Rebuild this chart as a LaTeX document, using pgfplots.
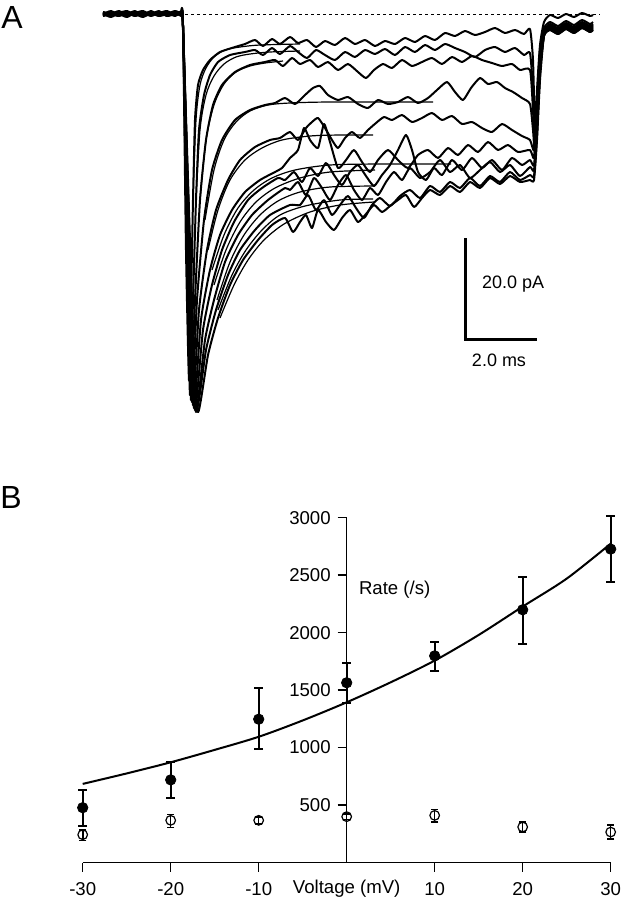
\documentclass[border=0pt]{standalone}
\usepackage{fontspec}
\setmainfont{Liberation Sans}
\usepackage{pgfplots}
\pgfplotsset{compat=1.18}

% panel A is drawn in image units (1 unit = 0.5pt), y grows downwards
\pgfplotsset{
  trace/.style={black, line width=1pt, line join=round, no marks, smooth, tension=0.35},
  fit/.style={black, line width=0.6pt, no marks, smooth},
}

\begin{document}
\begin{tikzpicture}
\useasboundingbox (0pt,0pt) rectangle (310.5pt,-450pt);

\begin{axis}[
  at={(0pt,0pt)}, anchor=north west,
  scale only axis, width=310.5pt, height=225pt,
  xmin=0, xmax=621, ymin=0, ymax=450, y dir=reverse,
  hide axis, clip=false,
]
% baseline reference
\addplot[black, line width=0.5pt, dash pattern=on 1.5pt off 1.5pt] coordinates {(185,14.5) (600,14.5)};

% current traces
\addplot[trace] coordinates {(103,13)(110,15)(118,12)(126,15)(134,13)(142,16)(150,12)(158,14)(166,12)(174,15)(181,13)(183,25)(186,250)(189,380)(191,300)(193,200)(195,120)(198,85)(203,70)(210,60)(220,52)(235,47)(245,44)(255,40)(263,46)(272,39)(280,44)(290,37)(298,43)(307,40)(316,47)(325,41)(335,45)(345,38)(355,44)(365,40)(375,46)(385,41)(395,44)(405,38)(415,42)(425,36)(435,40)(445,33)(455,36)(465,31)(475,35)(485,32)(495,28)(505,33)(515,30)(524,34)(530,29)(533,60)(535,130)(537,90)(540,45)(544,22)(550,15)(558,18)(566,14)(574,17)(582,13)(590,16)(593,15)};
\addplot[trace] coordinates {(103,16)(111,13)(119,16)(127,12)(135,15)(143,13)(151,16)(159,13)(167,15)(175,12)(181,15)(183,30)(187,260)(190,395)(193,300)(196,200)(199,130)(204,95)(210,75)(218,62)(230,55)(245,52)(255,50)(263,55)(272,48)(280,54)(290,46)(298,52)(307,58)(316,50)(325,55)(335,60)(345,52)(355,57)(365,50)(375,54)(385,49)(395,55)(405,47)(415,52)(425,45)(435,50)(445,44)(455,48)(465,52)(475,57)(485,50)(495,47)(505,52)(515,48)(524,55)(530,53)(533,90)(535,140)(537,100)(540,50)(544,28)(550,22)(558,26)(566,21)(574,25)(582,20)(590,24)(593,22)};
\addplot[trace] coordinates {(103,12)(111,15)(119,13)(127,16)(135,12)(143,15)(151,13)(159,16)(167,12)(175,15)(181,14)(183,28)(188,270)(191,400)(195,300)(200,200)(206,140)(213,105)(222,85)(235,72)(250,65)(265,62)(275,60)(283,66)(292,58)(300,64)(310,60)(318,67)(328,62)(338,70)(348,64)(358,72)(366,78)(374,70)(383,64)(392,68)(402,60)(412,66)(422,62)(432,58)(442,64)(452,57)(462,62)(472,56)(482,60)(492,63)(502,66)(512,64)(520,70)(530,70)(533,110)(535,150)(537,110)(540,55)(544,30)(550,26)(558,30)(566,25)(574,29)(582,24)(590,28)(593,26)};
\addplot[trace] coordinates {(103,14)(111,11)(119,15)(127,13)(135,16)(143,12)(151,14)(159,11)(167,16)(175,13)(181,15)(183,26)(189,280)(192,402)(197,300)(204,220)(212,170)(222,140)(235,120)(250,110)(265,105)(275,103)(285,98)(295,104)(305,95)(313,88)(320,86)(328,95)(338,100)(348,97)(358,104)(368,108)(378,100)(388,104)(398,102)(408,97)(418,103)(428,98)(437,90)(447,82)(455,92)(463,100)(471,88)(480,78)(488,84)(497,82)(505,88)(513,92)(522,98)(530,104)(533,130)(535,155)(537,115)(540,60)(544,32)(550,24)(558,28)(566,23)(574,27)(582,22)(590,26)(593,24)};
\addplot[trace] coordinates {(103,15)(111,12)(119,14)(127,17)(135,13)(143,15)(151,11)(159,15)(167,13)(175,16)(181,13)(183,27)(190,290)(193,405)(199,310)(207,250)(216,210)(228,180)(240,160)(255,147)(270,140)(280,138)(290,132)(298,140)(306,128)(312,122)(318,118)(325,128)(332,140)(338,148)(345,138)(352,132)(360,138)(368,130)(376,123)(384,117)(392,120)(402,115)(412,122)(422,118)(432,113)(442,120)(452,116)(462,124)(472,122)(482,128)(492,132)(502,124)(512,130)(522,136)(530,140)(534,150)(537,110)(540,60)(544,33)(550,27)(558,31)(566,26)(574,30)(582,25)(590,29)(593,27)};
\addplot[trace] coordinates {(103,13)(111,16)(119,12)(127,14)(135,11)(143,16)(151,14)(159,12)(167,15)(175,12)(181,14)(183,25)(190,300)(194,408)(201,320)(210,270)(220,235)(232,210)(245,192)(260,180)(275,172)(282,168)(290,158)(298,150)(304,128)(310,140)(318,148)(324,124)(330,142)(338,168)(346,160)(354,150)(362,162)(370,172)(378,160)(388,150)(398,160)(408,168)(418,155)(428,150)(438,158)(448,148)(458,155)(468,145)(478,152)(488,142)(498,150)(508,145)(518,152)(530,150)(534,158)(537,120)(540,65)(544,35)(550,29)(558,33)(566,28)(574,32)(582,27)(590,31)(593,29)};
\addplot[trace] coordinates {(103,16)(111,14)(119,11)(127,15)(135,13)(143,11)(151,15)(159,13)(167,11)(175,15)(181,13)(183,26)(191,310)(195,410)(203,330)(212,285)(222,250)(234,222)(248,200)(262,188)(278,178)(285,180)(294,172)(302,182)(310,168)(318,176)(326,163)(334,175)(342,185)(350,172)(358,165)(366,176)(374,186)(382,175)(390,165)(398,150)(406,135)(412,150)(418,172)(426,180)(434,168)(442,175)(452,160)(462,170)(472,158)(482,168)(492,160)(502,170)(512,158)(522,165)(530,160)(534,165)(537,125)(540,70)(544,36)(550,30)(558,34)(566,29)(574,33)(582,28)(590,32)(593,30)};
\addplot[trace] coordinates {(103,12)(111,14)(119,16)(127,12)(135,14)(143,17)(151,13)(159,15)(167,12)(175,14)(181,16)(183,27)(192,320)(196,412)(205,340)(214,300)(225,262)(238,235)(252,215)(268,200)(285,188)(290,190)(298,182)(306,195)(314,178)(322,188)(330,200)(338,185)(346,175)(354,190)(362,200)(370,188)(378,195)(386,182)(394,172)(402,180)(410,168)(420,178)(430,172)(440,160)(450,172)(460,165)(470,178)(480,170)(490,162)(500,172)(510,165)(520,176)(530,167)(534,170)(537,130)(540,70)(544,34)(550,28)(558,32)(566,27)(574,31)(582,26)(590,30)(593,28)};
\addplot[trace] coordinates {(103,14)(111,17)(119,13)(127,11)(135,15)(143,14)(151,12)(159,16)(167,14)(175,11)(181,14)(183,25)(192,330)(197,408)(206,350)(216,310)(228,275)(240,250)(255,230)(270,215)(290,205)(300,205)(308,195)(316,210)(324,200)(332,215)(340,205)(348,196)(356,208)(364,218)(372,205)(380,198)(390,206)(400,196)(410,190)(420,198)(430,186)(440,192)(450,182)(460,188)(470,178)(480,186)(490,176)(500,182)(510,172)(520,180)(530,175)(534,176)(537,135)(540,75)(544,35)(550,25)(558,29)(566,24)(574,28)(582,23)(590,27)(593,25)};
\addplot[trace] coordinates {(103,15)(111,13)(119,15)(127,12)(135,16)(143,13)(151,15)(159,12)(167,16)(175,14)(181,12)(183,26)(193,330)(198,412)(208,355)(218,318)(230,285)(243,260)(258,240)(272,225)(285,218)(293,232)(300,222)(306,215)(312,228)(318,210)(326,222)(334,230)(342,218)(350,210)(358,222)(366,214)(374,205)(382,212)(390,206)(398,200)(406,195)(414,207)(422,198)(430,190)(440,195)(450,186)(460,192)(470,182)(480,188)(490,178)(500,184)(510,176)(520,182)(530,180)(534,180)(537,140)(540,80)(544,36)(550,30)(558,34)(566,29)(574,33)(582,28)(590,32)(593,30)};

% exponential fits
\addplot[fit] coordinates {(193,200)(196,120)(200,85)(206,68)(214,57)(225,50)(240,47)(260,45)(300,44)};
\addplot[fit] coordinates {(196,200)(200,130)(206,95)(214,76)(224,64)(236,57)(250,54)(270,52)(300,51)};
\addplot[fit] coordinates {(200,200)(206,140)(214,105)(224,84)(236,72)(250,66)(265,63)(283,61)};
\addplot[fit] coordinates {(205,220)(214,170)(224,140)(236,122)(250,111)(268,105)(290,103)(330,102)(433,102)};
\addplot[fit] coordinates {(208,250)(218,210)(230,180)(245,160)(262,148)(282,140)(310,136)(340,135)(373,135)};
\addplot[fit] coordinates {(212,270)(224,235)(238,208)(254,190)(272,178)(295,170)(330,165)(380,164)(451,164)};
\addplot[fit] coordinates {(214,285)(226,250)(240,222)(256,202)(275,188)(300,178)(330,172)(375,170)};
\addplot[fit] coordinates {(217,300)(230,262)(244,235)(260,215)(278,201)(300,192)(330,187)(375,186)};
\addplot[fit] coordinates {(218,310)(232,275)(246,250)(262,230)(280,215)(305,206)(340,200)(373,199)};
\addplot[fit] coordinates {(220,318)(234,285)(248,260)(264,240)(284,224)(310,212)(340,205)(374,202)};

% scale bars: 20 pA and 2 ms
\addplot[black, line width=1.5pt, line join=miter] coordinates {(465,238) (465,339) (537,339)};
\node[anchor=west, font=\fontsize{9}{10}\selectfont] at (axis cs:475,284) {20.0 pA};
\node[font=\fontsize{9}{10}\selectfont] at (axis cs:499,360) {2.0 ms};
\node[font=\fontsize{16}{18}\selectfont] at (axis cs:12,17) {A};
\end{axis}

\node[font=\fontsize{16}{18}\selectfont] at (5.5pt,-248.5pt) {B};

\begin{axis}[
  at={(41.35pt,-431.25pt)}, anchor=south west,
  scale only axis, width=264pt, height=172.4pt,
  xmin=-30, xmax=30, ymin=0, ymax=3000,
  enlargelimits=false, clip=false,
  axis lines=middle,
  axis line style={-, line width=0.75pt},
  xtick={-30,-20,-10,10,20,30},
  xticklabels={-30,-20,-10,10,20,30},
  ytick={500,1000,1500,2000,2500,3000},
  yticklabels={500,1000,1500,2000,2500,3000},
  tick align=outside, major tick length=4.5pt,
  tick style={black, line width=0.75pt},
  tick label style={font=\fontsize{9.3}{10}\selectfont},
  xticklabel style={yshift=-2pt},
]
% fitted rate curve
\addplot[black, line width=1pt, smooth, no marks] coordinates {
  (-30,684) (-25,775) (-20,872) (-15,980) (-10,1094) (-5,1236) (0,1394)
  (5,1568) (10,1757) (15,1980) (20,2227) (25,2470) (30,2774)};
% fast rate, filled circles
\addplot[black, only marks, mark=*, mark size=2.6pt,
  error bars/.cd, y dir=both, y explicit,
  error bar style={line width=1pt},
  error mark options={rotate=90, mark size=2.25pt, line width=1pt}]
  coordinates {
  (-30,477) += (0,158) -= (0,162)
  (-20,719) += (0,159) -= (0,158)
  (-10,1247) += (0,268) -= (0,263)
  (0,1564) += (0,173) -= (0,173)
  (10,1798) += (0,124) -= (0,133)
  (20,2199) += (0,285) -= (0,298)
  (30,2727) += (0,291) -= (0,289)};
% slow rate, open circles
\addplot[black, only marks, mark=o, mark size=2.4pt, mark options={line width=0.6pt},
  error bars/.cd, y dir=both, y explicit,
  error bar style={line width=0.8pt},
  error mark options={rotate=90, mark size=1.8pt, line width=0.8pt}]
  coordinates {
  (-30,242) += (0,40) -= (0,52)
  (-20,367) += (0,52) -= (0,61)
  (-10,367) += (0,30) -= (0,30)
  (0,399) += (0,25) -= (0,25)
  (10,410) += (0,50) -= (0,55)
  (20,309) += (0,43) -= (0,44)
  (30,265) += (0,61) -= (0,63)};
\node[anchor=west, font=\fontsize{9.3}{10}\selectfont] at (axis cs:0.6,2370) {Rate (/s)};
\node[font=\fontsize{9.3}{10}\selectfont] at (axis cs:0,-232) {Voltage (mV)};
\end{axis}
\end{tikzpicture}
\end{document}
